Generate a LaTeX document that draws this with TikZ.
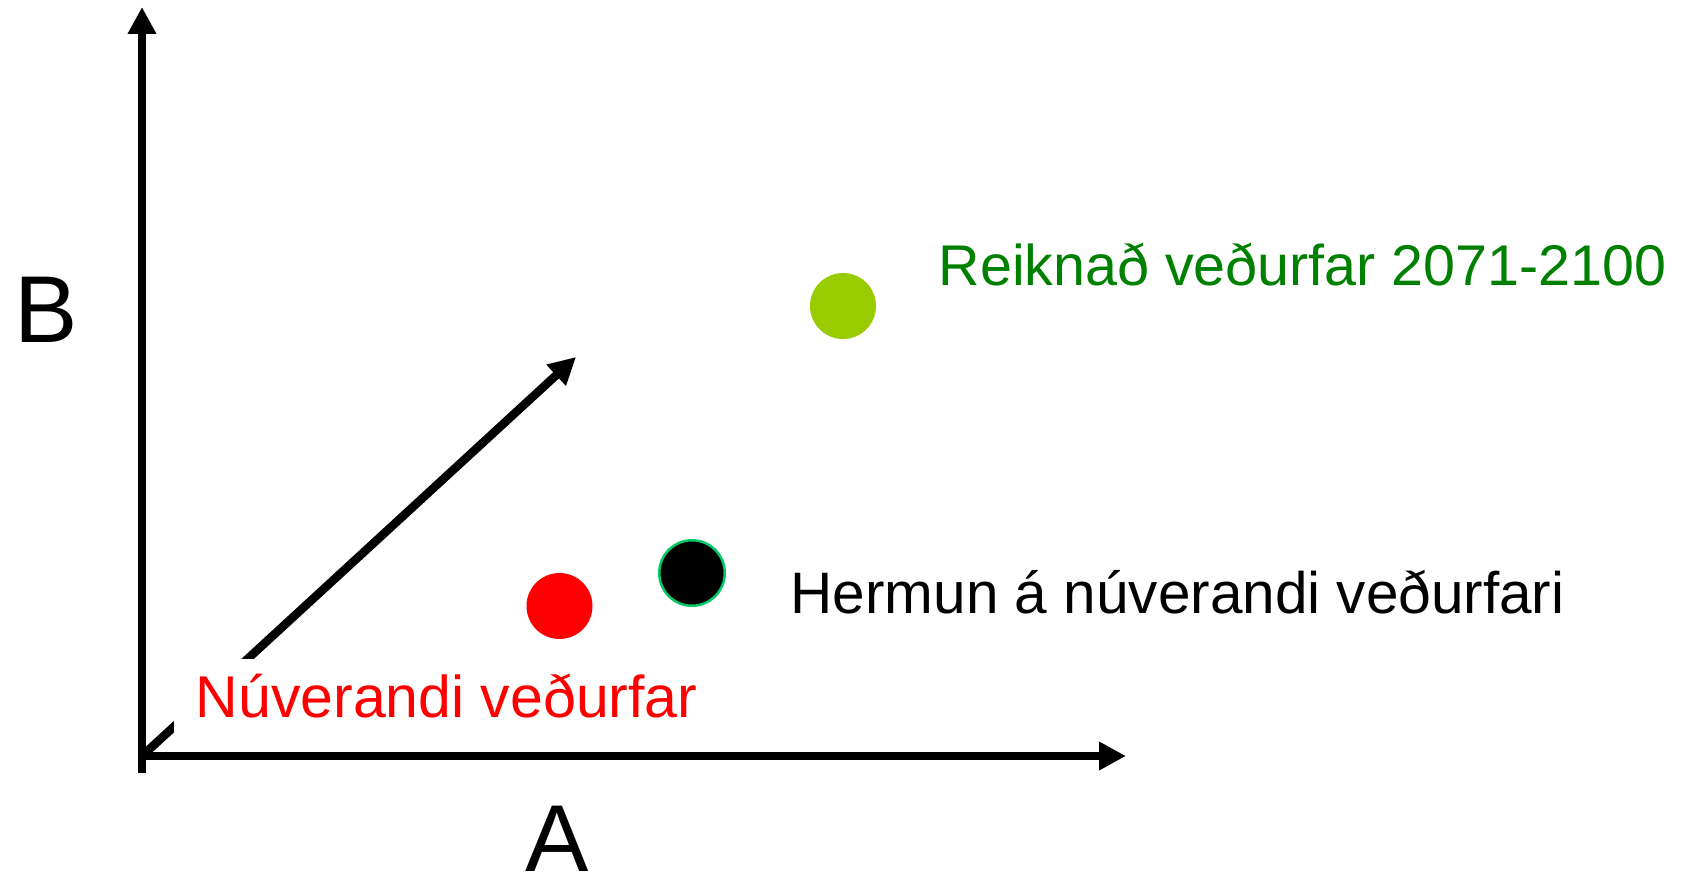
\documentclass[tikz,border=0pt]{standalone}
\usepackage{fontspec}
\setmainfont{Liberation Sans}
\usetikzlibrary{arrows.meta}
\definecolor{labelgreen}{RGB}{0,128,0}
\definecolor{dotgreen}{RGB}{153,204,0}
\definecolor{ringgreen}{RGB}{0,200,100}
\begin{document}
\begin{tikzpicture}[x=1pt,y=-1pt,
  axis/.style={line width=8.5pt, -{Triangle[length=27pt,width=27pt]}},
  dot/.style={circle, inner sep=0pt, minimum size=66pt},
  lbl/.style={font=\fontsize{58}{70}\selectfont, inner sep=0pt, anchor=base west},
  axlbl/.style={font=\fontsize{95}{110}\selectfont, inner sep=0pt}]
\useasboundingbox (0,0) rectangle (1695,875);
\coordinate (O) at (142,756);
\coordinate (Ytop) at (142,7);
\coordinate (Ybot) at (142,773);
\coordinate (Xstart) at (138,756);
\coordinate (Xend) at (1126,756);
\coordinate (D) at (576,357);
\draw[axis] (Ybot) -- (Ytop);
\draw[axis] (Xstart) -- (Xend);
\draw[axis] (O) -- (D);
\node[lbl, font=\fontsize{59}{70}\selectfont, text=red, fill=white, inner xsep=22pt, inner ysep=14pt] (nuv) at (173.5,717) {Núverandi veðurfar};
\node[lbl, font=\fontsize{57.4}{70}\selectfont, text=labelgreen] (reik) at (938.5,285) {Reiknað veðurfar 2071-2100};
\node[lbl, font=\fontsize{58.5}{70}\selectfont] (herm) at (790.5,613) {Hermun á núverandi veðurfari};
\node[axlbl, anchor=base west] (B) at (14,342) {B};
\node[axlbl, anchor=base] (A) at (557,871) {A};
\node[dot, fill=red] (cur) at (559.5,606) {};
\node[dot, fill=black, draw=ringgreen, line width=2.5pt, minimum size=65.5pt] (sim) at (692,573) {};
\node[dot, fill=dotgreen] (fut) at (843,306) {};
\end{tikzpicture}
\end{document}
